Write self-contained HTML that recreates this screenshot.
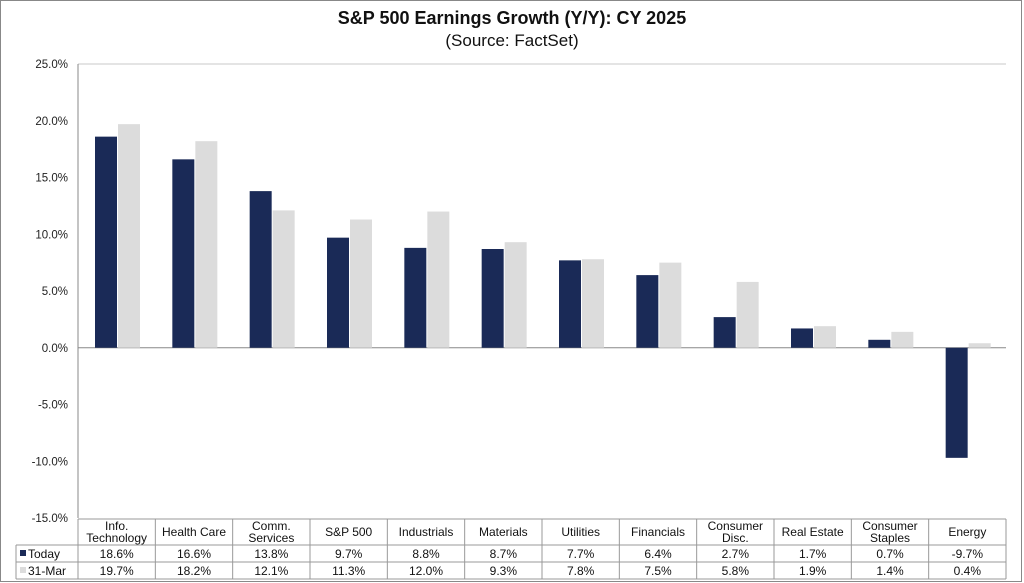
<!DOCTYPE html>
<html><head><meta charset="utf-8"><style>
body{margin:0;background:#fff;}
svg{display:block;font-family:"Liberation Sans",Arial,sans-serif;}
</style></head><body>
<svg id="c" width="1024" height="583">
<rect x="0.5" y="0.5" width="1021" height="581" fill="#fff" stroke="#888"/>
<text x="512" y="24" text-anchor="middle" font-size="18" font-weight="bold" fill="#111">S&amp;P 500 Earnings Growth (Y/Y): CY 2025</text>
<text x="512" y="46" text-anchor="middle" font-size="17" fill="#111">(Source: FactSet)</text>
<g id="g"></g>
</svg>
<script>
const categories=[["Info.","Technology"],["Health Care"],["Comm.","Services"],["S&P 500"],["Industrials"],["Materials"],["Utilities"],["Financials"],["Consumer","Disc."],["Real Estate"],["Consumer","Staples"],["Energy"]];
const today=[18.6,16.6,13.8,9.7,8.8,8.7,7.7,6.4,2.7,1.7,0.7,-9.7];
const march=[19.7,18.2,12.1,11.3,12.0,9.3,7.8,7.5,5.8,1.9,1.4,0.4];
const ticks=[25,20,15,10,5,0,-5,-10,-15];
const NS="http://www.w3.org/2000/svg",g=document.getElementById('g');
const X0=78,X1=1006,Y0=64,Y1=518,cw=(X1-X0)/categories.length;
const y=v=>Y0+(25-v)/40*(Y1-Y0);
function mk(t,a,txt){const e=document.createElementNS(NS,t);for(const k in a)e.setAttribute(k,a[k]);if(txt!=null)e.textContent=txt;g.appendChild(e);return e;}
ticks.forEach(t=>{
 if(t===25){const l=mk('line',{x1:X0,x2:X1,y1:y(t),y2:y(t),stroke:'#c8c8c8','stroke-width':1});
 
 }
 const e=mk('text',{x:68,y:y(t)+4,'text-anchor':'end','font-size':11.5,fill:'#222'},t.toFixed(1)+'%');
 
 
});
let ax=mk('line',{x1:X0,x2:X0,y1:Y0,y2:Y1,stroke:'#888'});


let zl=mk('line',{x1:X0,x2:X1,y1:y(0),y2:y(0),stroke:'#888'});


categories.forEach((c,i)=>{
 const cx=X0+i*cw;
 const b1=mk('rect',{x:cx+17,width:22,y:Math.min(y(today[i]),y(0)),height:Math.abs(y(today[i])-y(0)),fill:'#1a2a57'});
 
 
 const b2=mk('rect',{x:cx+40,width:22,y:Math.min(y(march[i]),y(0)),height:Math.abs(y(march[i])-y(0)),fill:'#dcdcdc'});
 
 
 const mid=cx+cw/2;
 c.forEach((s,j)=>{const t=mk('text',{x:mid,y:(c.length===1?536:530)+j*12,'text-anchor':'middle','font-size':12,fill:'#111'},s);
 
 });
 const t1=mk('text',{x:mid,y:558,'text-anchor':'middle','font-size':12,fill:'#111'},today[i].toFixed(1)+'%');
 
 
 const t2=mk('text',{x:mid,y:575,'text-anchor':'middle','font-size':12,fill:'#111'},march[i].toFixed(1)+'%');
 
 
});
const tl=[[X0,519,X1,519],[16,545,X1,545],[16,562,X1,562],[16,579,X1,579],[16,545,16,579],[X1,519,X1,579]];
for(let i=0;i<=categories.length;i++)tl.push([X0+i*cw,519,X0+i*cw,579]);
tl.forEach(a=>{const l=mk('line',{x1:a[0],y1:a[1],x2:a[2],y2:a[3],stroke:'#999'});
 
 });
let s1=mk('rect',{x:20,y:550,width:6,height:6,fill:'#1a2a57'});


let l1=mk('text',{x:28,y:558,'font-size':12,fill:'#111'},'Today');


let s2=mk('rect',{x:20,y:567,width:6,height:6,fill:'#dcdcdc'});


let l2=mk('text',{x:28,y:575,'font-size':12,fill:'#111'},'31-Mar');


</script>
</body></html>
